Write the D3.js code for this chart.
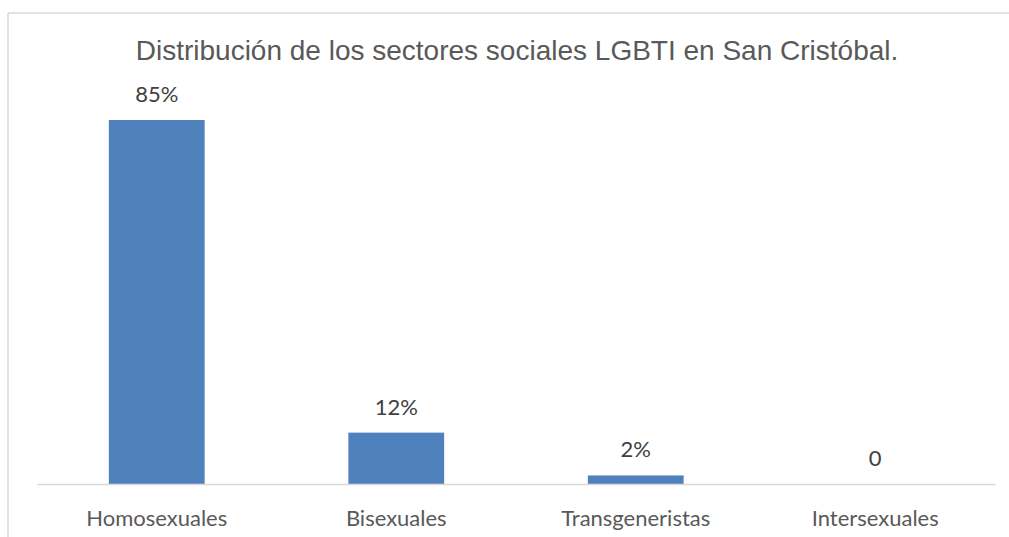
<!DOCTYPE html>
<html><head><meta charset="utf-8">
<script src="https://cdn.jsdelivr.net/npm/d3@7"></script>
<style>html,body{margin:0;padding:0;background:#fff;overflow:hidden}svg{display:block}</style>
</head><body>
<script>
const title = "Distribución de los sectores sociales LGBTI en San Cristóbal.";
const categories = ["Homosexuales", "Bisexuales", "Transgeneristas", "Intersexuales"];
const values = [0.85, 0.12, 0.02, 0];
const labels = ["85%", "12%", "2%", "0"];

const W = 1009, H = 537;
const svg = d3.select("body").append("svg").attr("width", W).attr("height", H);

// chart border: only top and left edges are visible in the frame
svg.append("line").attr("x1", 8).attr("x2", W).attr("y1", 13).attr("y2", 13)
  .attr("stroke", "#d9d9d9").attr("stroke-width", 1.5);
svg.append("line").attr("x1", 8).attr("x2", 8).attr("y1", 13).attr("y2", H)
  .attr("stroke", "#d9d9d9").attr("stroke-width", 1.5);

const x = d3.scaleBand().domain(categories).range([37, 995]).paddingInner(0.6).paddingOuter(0.3);
const y = d3.scaleLinear().domain([0, 0.85]).range([484, 120]);

svg.append("text").attr("x", 517).attr("y", 60).attr("text-anchor", "middle")
  .attr("font-family", "Liberation Sans, Arial, sans-serif").attr("font-size", 28)
  .attr("fill", "#595959").text(title);

svg.append("g").selectAll("rect").data(values).join("rect")
  .attr("x", (d, i) => x(categories[i]))
  .attr("width", x.bandwidth())
  .attr("y", d => y(d))
  .attr("height", d => y(0) - y(d))
  .attr("fill", "#4f81bd");

const ax = svg.append("g").attr("transform", `translate(0,${y(0)})`)
  .call(d3.axisBottom(x).tickSize(0).tickPadding(26));
ax.select(".domain").attr("stroke", "#d9d9d9").attr("stroke-width", 1.5);
ax.selectAll("text").attr("font-family", "Lato, Carlito, Calibri, sans-serif")
  .attr("font-size", 22).attr("fill", "#595959");

svg.append("g").selectAll("text").data(values).join("text")
  .attr("x", (d, i) => x(categories[i]) + x.bandwidth() / 2)
  .attr("y", d => y(d) - 18)
  .attr("text-anchor", "middle")
  .attr("font-family", "Lato, Carlito, Calibri, sans-serif").attr("font-size", 22)
  .attr("fill", "#404040")
  .text((d, i) => labels[i]);
</script>
</body></html>
